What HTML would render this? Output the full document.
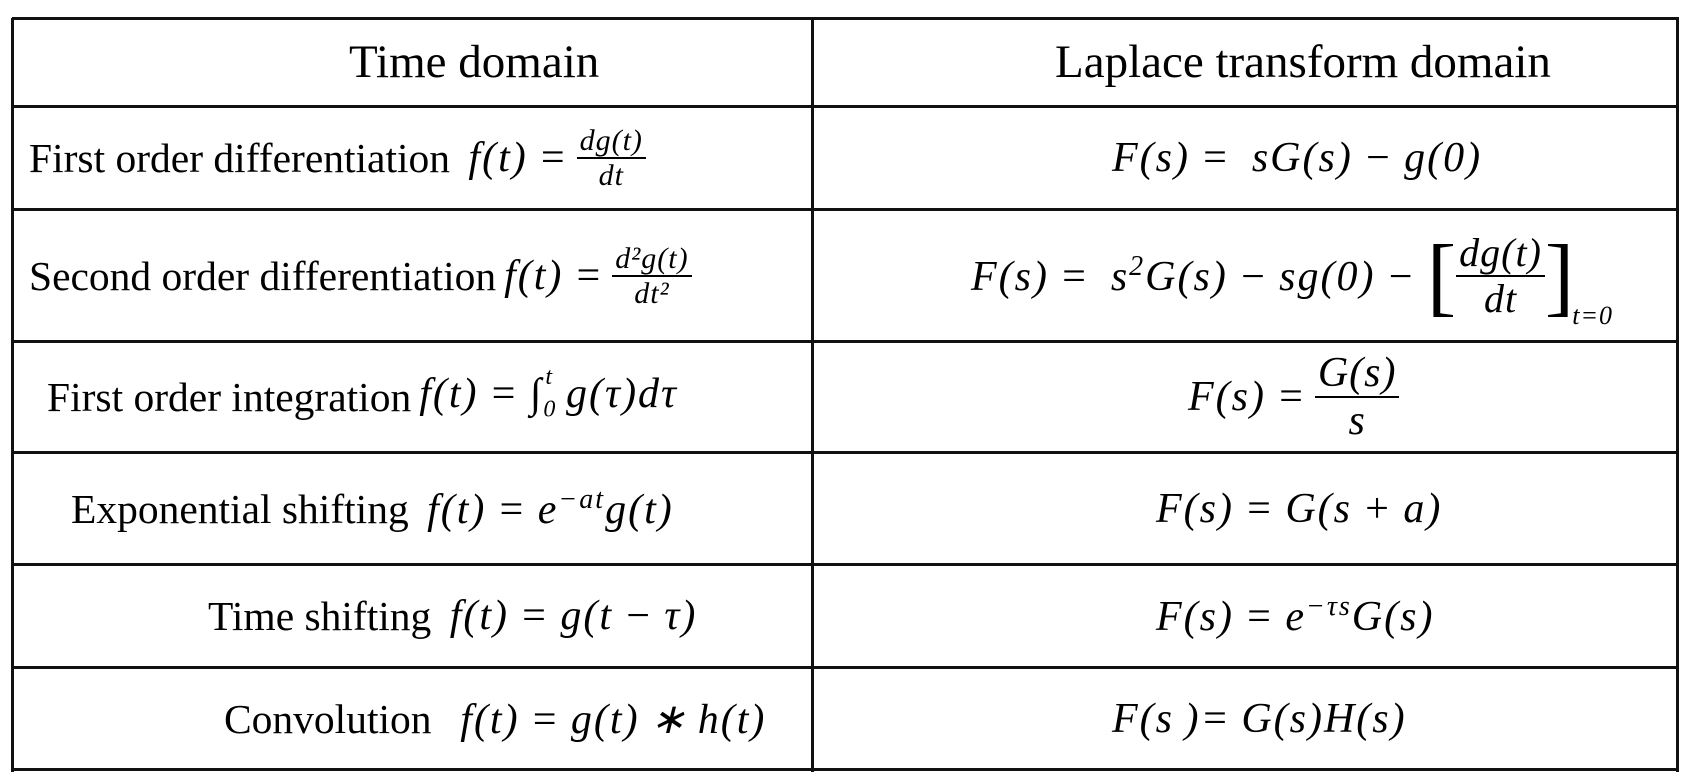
<!DOCTYPE html>
<html><head><meta charset="utf-8"><style>
body{margin:0;width:1688px;height:782px;background:#fff;position:relative;overflow:hidden;font-family:"Liberation Serif",serif;color:#000}
.h{position:absolute;border-top:3px solid #111;left:12px;width:1667px}
.v{position:absolute;border-left:3px solid #111;top:18px;height:754px}
.c{position:absolute;white-space:nowrap;display:flex;align-items:center;font-size:41.5px}
.m{font-style:italic;font-size:42px;letter-spacing:2px;word-spacing:-2px;margin-left:8px}
.fr{display:inline-flex;flex-direction:column;align-items:center;font-style:italic;font-size:30px;letter-spacing:1px;vertical-align:middle;margin-left:8px;line-height:1.1}
.fr .n{border-bottom:2px solid #000;padding:0 3px}
</style></head><body>
<div class="h" style="top:17px"></div>
<div class="h" style="top:105px"></div>
<div class="h" style="top:208px"></div>
<div class="h" style="top:340px"></div>
<div class="h" style="top:451px"></div>
<div class="h" style="top:563px"></div>
<div class="h" style="top:666px"></div>
<div class="h" style="top:768px"></div>
<div class="v" style="left:11px"></div>
<div class="v" style="left:811px"></div>
<div class="v" style="left:1676px"></div>

<div class="c" style="left:349px;top:18px;height:88px;font-size:47px">Time domain</div>
<div class="c" style="left:1055px;top:18px;height:88px;font-size:47px">Laplace transform domain</div>

<div class="c" style="left:29px;top:108px;height:100px">First order differentiation&nbsp;<span class="m">f(t) =</span><span class="fr"><span class="n">dg(t)</span><span>dt</span></span></div>
<div class="c" style="left:29px;top:211px;height:130px">Second order differentiation<span class="m">f(t) =</span><span class="fr"><span class="n">d²g(t)</span><span>dt²</span></span></div>
<div class="c" style="left:47px;top:343px;height:108px">First order integration<span class="m">f(t) = ∫<sub style="font-size:24px">0</sub><sup style="font-size:24px;position:relative;top:-8px;left:-12px">t</sup>g(τ)dτ</span></div>
<div class="c" style="left:71px;top:454px;height:110px">Exponential shifting&nbsp;<span class="m">f(t) = e<sup style="font-size:28px">−at</sup>g(t)</span></div>
<div class="c" style="left:208px;top:566px;height:100px">Time shifting&nbsp;<span class="m">f(t) = g(t − τ)</span></div>
<div class="c" style="left:224px;top:669px;height:100px">Convolution&nbsp;&nbsp;<span class="m">f(t) = g(t) ∗ h(t)</span></div>

<div class="c" style="left:1104px;top:108px;height:100px"><span class="m">F(s) =&nbsp; sG(s) − g(0)</span></div>
<div class="c" style="left:963px;top:211px;height:130px"><span class="m">F(s) =&nbsp; s<sup style="font-size:28px">2</sup>G(s) − sg(0) −&nbsp;</span><span style="font-size:88px;font-weight:100">[</span><span class="fr" style="font-size:40px;margin:0"><span class="n">dg(t)</span><span>dt</span></span><span style="font-size:88px;font-weight:100">]</span><span class="m" style="font-size:26px;letter-spacing:1px;align-self:flex-end;margin-bottom:10px;margin-left:-2px">t=0</span></div>
<div class="c" style="left:1180px;top:343px;height:108px"><span class="m">F(s) =</span><span class="fr" style="font-size:42px"><span class="n">G(s)</span><span>s</span></span></div>
<div class="c" style="left:1148px;top:454px;height:110px"><span class="m">F(s) = G(s + a)</span></div>
<div class="c" style="left:1148px;top:566px;height:100px"><span class="m">F(s) = e<sup style="font-size:28px">−τs</sup>G(s)</span></div>
<div class="c" style="left:1104px;top:669px;height:100px"><span class="m">F(s )= G(s)H(s)</span></div>
</body></html>
